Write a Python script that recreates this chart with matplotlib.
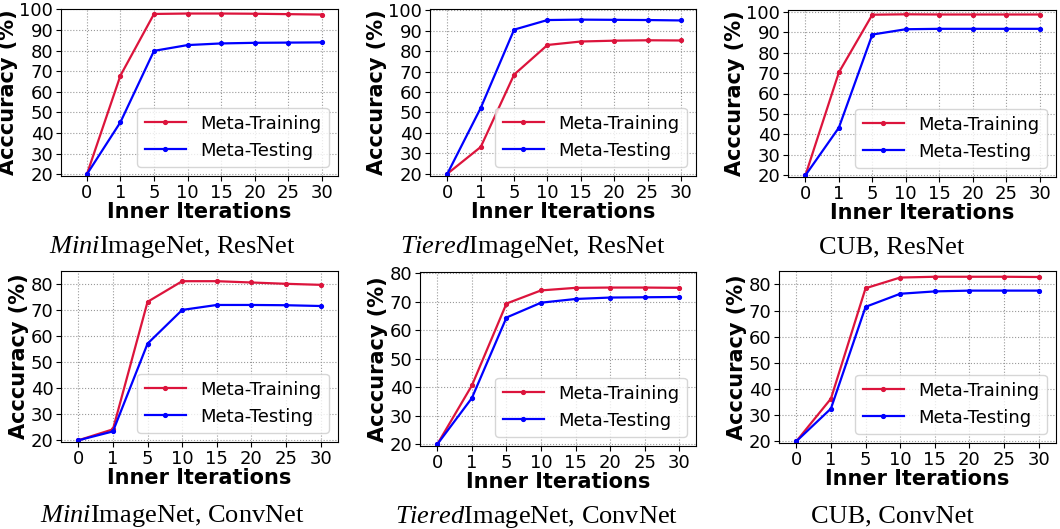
import matplotlib
matplotlib.use('Agg')
import matplotlib.pyplot as plt

plt.rcParams['mathtext.fontset'] = 'custom'
plt.rcParams['mathtext.it'] = 'Liberation Serif:italic'
plt.rcParams['mathtext.rm'] = 'Liberation Serif'

# x-axis categories (inner iterations)
iters = ['0', '1', '5', '10', '15', '20', '25', '30']

# accuracies (%)
mini_res_train = [20, 67.9, 97.8, 98.0, 98.0, 97.9, 97.7, 97.5]
mini_res_test = [20, 45.3, 79.9, 82.7, 83.5, 83.8, 83.9, 84.0]
tiered_res_train = [20, 33.1, 68.5, 83.0, 84.7, 85.1, 85.3, 85.2]
tiered_res_test = [20, 52.2, 90.5, 95.2, 95.4, 95.3, 95.2, 95.0]
cub_res_train = [20, 70.3, 98.5, 98.7, 98.6, 98.6, 98.6, 98.6]
cub_res_test = [20, 43.3, 88.8, 91.4, 91.6, 91.6, 91.6, 91.6]
mini_conv_train = [20, 24.2, 73.0, 80.9, 80.9, 80.4, 79.9, 79.5]
mini_conv_test = [20, 23.4, 57.0, 69.9, 71.8, 71.8, 71.7, 71.4]
tiered_conv_train = [20, 40.6, 69.3, 73.9, 74.8, 74.9, 74.9, 74.8]
tiered_conv_test = [20, 36.2, 64.4, 69.6, 70.9, 71.4, 71.5, 71.6]
cub_conv_train = [20, 36.3, 78.5, 82.6, 82.9, 82.9, 82.9, 82.8]
cub_conv_test = [20, 32.5, 71.4, 76.4, 77.3, 77.6, 77.6, 77.6]

captions = [r'$\mathit{Mini}$ImageNet, ResNet', r'$\mathit{Tiered}$ImageNet, ResNet', 'CUB, ResNet',
            r'$\mathit{Mini}$ImageNet, ConvNet', r'$\mathit{Tiered}$ImageNet, ConvNet', 'CUB, ConvNet']

W, H = 1060, 529
fig = plt.figure(figsize=(W / 100, H / 100), dpi=100)

# (left, right, top, bottom) in pixels, xlim, ylim, yticks, caption center / baseline
panels = [
    ((61, 338, 9, 176), (-0.77, 7.48), (19.2, 100.2), range(20, 101, 10), (172, 253), mini_res_train, mini_res_test),
    ((430, 696, 9, 176), (-0.52, 7.45), (18.9, 100.6), range(20, 101, 10), (533, 253), tiered_res_train, tiered_res_test),
    ((788, 1056, 10, 177), (-0.52, 7.49), (19.2, 100.8), range(20, 101, 10), (892, 253), cub_res_train, cub_res_test),
    ((61, 338, 271, 442), (-0.5, 7.5), (19.35, 84.8), range(20, 81, 10), (172, 522), mini_conv_train, mini_conv_test),
    ((420, 696, 272, 446), (-0.5, 7.48), (19.4, 80.35), range(20, 81, 10), (537, 523), tiered_conv_train, tiered_conv_test),
    ((779, 1056, 271, 443), (-0.5, 7.5), (19.35, 85.1), range(20, 81, 10), (892, 522), cub_conv_train, cub_conv_test),
]

for i, (box, xl, yl, yt, cap, train, test) in enumerate(panels):
    l, r, t, b = box
    ax = fig.add_axes([l / W, 1 - b / H, (r - l) / W, (b - t) / H])
    x = range(len(iters))
    ax.plot(x, train, color='crimson', marker='.', markersize=5.5, linewidth=1.6, label='Meta-Training')
    ax.plot(x, test, color='blue', marker='.', markersize=5.5, linewidth=1.6, label='Meta-Testing')
    ax.set_xticks(list(x))
    ax.set_xticklabels(iters)
    ax.set_yticks(list(yt))
    ax.set_xlim(*xl)
    ax.set_ylim(*yl)
    ax.tick_params(labelsize=13, pad=2)
    ax.grid(True, linestyle=':', color='#999999', linewidth=0.8)
    ax.set_xlabel('Inner Iterations', fontsize=15, fontweight='bold', labelpad=0)
    ax.set_ylabel('Acccuracy (%)', fontsize=15, fontweight='bold', labelpad=1)
    ax.legend(loc='lower right', fontsize=13, handlelength=2.3)
    fig.text(cap[0] / W, 1 - cap[1] / H, captions[i], fontsize=19, family='Liberation Serif',
             ha='center', va='baseline')

fig.savefig('out.png', dpi=100)
